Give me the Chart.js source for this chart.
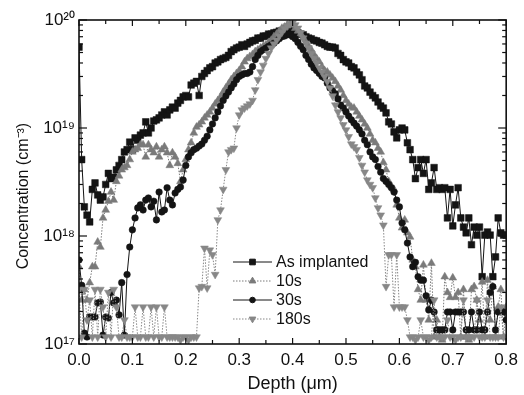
<!DOCTYPE html>
<html><head><meta charset="utf-8">
<script src="https://cdn.jsdelivr.net/npm/chart.js@4.4.1/dist/chart.umd.min.js"></script>
<style>html,body{margin:0;padding:0;background:#fff}#wrap{width:524px;height:395px;position:relative}</style>
</head><body><div id="wrap"><canvas id="c" width="524" height="395"></canvas></div>
<script>
// Depth positions (nm)
const depthNm = [0,5,10,15,20,25,30,35,40,45,
50,55,60,65,70,75,80,85,90,95,
100,105,110,115,120,125,130,135,140,145,
150,155,160,165,170,175,180,185,190,195,
200,205,210,215,220,225,230,235,240,245,
250,255,260,265,270,275,280,285,290,295,
300,305,310,315,320,325,330,335,340,345,
350,355,360,365,370,375,380,385,390,395,
400,405,410,415,420,425,430,435,440,445,
450,455,460,465,470,475,480,485,490,495,
500,505,510,515,520,525,530,535,540,545,
550,555,560,565,570,575,580,585,590,595,
600,605,610,615,620,625,630,635,640,645,
650,655,660,665,670,675,680,685,690,695,
700,705,710,715,720,725,730,735,740,745,
750,755,760,765,770,775,780,785,790,795,
800];

// Concentrations (cm^-3)
const asImplanted = [5.6e19,5.1e18,1.86e18,1.56e18,1.35e18,2.7e18,3.1e18,2.4e18,2.15e18,2.3e18,
3.0e18,3.8e18,3.4e18,3.5e18,4.1e18,4.5e18,5.1e18,6.0e18,6.3e18,7.4e18,
6.3e18,8.1e18,7.7e18,8.6e18,9.0e18,1.14e19,9.0e18,1.0e19,1.16e19,1.19e19,
1.24e19,1.32e19,1.41e19,1.32e19,1.47e19,1.56e19,1.53e19,1.7e19,1.8e19,1.94e19,
2.0e19,1.94e19,2.5e19,2.6e19,2.7e19,2.0e19,3.0e19,3.2e19,3.4e19,3.6e19,
3.7e19,4.0e19,4.1e19,4.3e19,4.4e19,4.5e19,4.7e19,5.1e19,5.3e19,5.5e19,
5.6e19,5.9e19,5.7e19,6.0e19,6.2e19,6.4e19,6.5e19,6.8e19,6.8e19,7.1e19,
7.1e19,7.4e19,7.4e19,7.6e19,7.7e19,7.9e19,7.9e19,8.1e19,8.1e19,8.3e19,
8.1e19,7.7e19,7.6e19,7.4e19,7.3e19,7.0e19,6.8e19,6.7e19,6.5e19,6.4e19,
6.2e19,6.1e19,5.9e19,5.7e19,5.6e19,5.6e19,5.5e19,4.9e19,4.7e19,4.3e19,
4.1e19,4.0e19,3.7e19,3.6e19,3.3e19,3.1e19,2.8e19,2.45e19,2.35e19,2.15e19,
2.0e19,1.9e19,1.74e19,1.6e19,1.53e19,1.38e19,1.14e19,1.09e19,9.2e18,8.1e18,
9.6e18,1.0e19,9.6e18,7.3e18,6.3e18,5.1e18,3.4e18,4.3e18,5.1e18,3.8e18,
5.1e18,2.7e18,3.1e18,4.3e18,2.7e18,2.8e18,2.7e18,2.8e18,1.47e18,2.7e18,
1.24e18,1.94e18,2.8e18,1.47e18,1.21e18,1.07e18,1.47e18,8.3e17,1.21e18,1.02e18,
1.21e18,4.2e17,1.02e18,1.09e18,1.02e18,4.2e17,6.4e17,1.47e18,1.07e18,1.02e18,
1.02e18];

const anneal10s = [5.2e17,2.55e17,3.2e17,2.55e17,3.7e17,5.2e17,5.2e17,8.8e17,7.9e17,1.47e18,
1.74e18,2.1e18,2.55e18,2.15e18,3.2e18,3.6e18,4.1e18,4.3e18,4.5e18,5.1e18,
6.0e18,6.3e18,6.5e18,7.0e18,7.0e18,5.4e18,7.0e18,6.3e18,5.9e18,6.7e18,
5.4e18,6.3e18,6.7e18,5.9e18,4.5e18,5.9e18,5.4e18,4.7e18,3.2e18,4.1e18,
5.1e18,6.3e18,7.3e18,9.0e18,1.02e19,1.07e19,1.14e19,1.24e19,1.32e19,1.41e19,
1.53e19,1.67e19,1.8e19,1.94e19,2.15e19,2.35e19,2.55e19,2.8e19,3.0e19,3.2e19,
3.4e19,3.7e19,4.1e19,4.4e19,4.6e19,4.8e19,5.1e19,5.3e19,5.5e19,5.7e19,
5.9e19,6.2e19,6.5e19,7.0e19,7.4e19,7.9e19,8.4e19,8.6e19,9.0e19,9.2e19,
9.0e19,8.4e19,7.9e19,7.4e19,6.8e19,6.2e19,5.7e19,5.3e19,4.8e19,4.4e19,
4.1e19,3.7e19,3.4e19,3.3e19,3.1e19,2.9e19,2.7e19,2.45e19,2.25e19,2.0e19,
1.8e19,1.67e19,1.56e19,1.53e19,1.41e19,1.29e19,1.19e19,1.09e19,1.0e19,8.8e18,
7.7e18,7.3e18,6.5e18,6.0e18,4.8e18,4.1e18,3.2e18,2.9e18,2.7e18,1.94e18,
1.47e18,1.19e18,1.41e18,1.07e18,9.8e17,6.0e17,5.2e17,3.2e17,2.55e17,5.4e17,
2.55e17,1.67e17,5.6e17,1.16e17,1.67e17,1.16e17,1.09e17,4.2e17,3.0e17,2.7e17,
4.1e17,2.7e17,3.0e17,1.16e17,3.2e17,1.16e17,1.09e17,3.2e17,3.4e17,2.55e17,
1.67e17,3.75e17,1.16e17,3.9e17,1.67e17,3.4e17,1.16e17,2.2e17,3.2e17,1.16e17,
2.2e17];

const anneal30s = [6.0e17,3.5e17,1.26e17,1.16e17,1.78e17,1.78e17,1.78e17,2.4e17,2.45e17,1.21e17,
1.78e17,1.74e17,3.0e17,2.4e17,2.55e17,1.86e17,3.7e17,1.21e17,4.4e17,7.9e17,
1.14e18,1.47e18,1.82e18,1.94e18,1.74e18,2.15e18,2.25e18,1.86e18,2.1e18,1.41e18,
2.55e18,1.67e18,1.74e18,2.8e18,2.15e18,1.94e18,2.5e18,2.7e18,2.84e18,3.3e18,
4.5e18,5.4e18,5.9e18,6.3e18,6.5e18,6.8e18,7.1e18,7.7e18,8.4e18,9.6e18,
1.09e19,1.24e19,1.41e19,1.6e19,1.8e19,1.98e19,2.15e19,2.35e19,2.55e19,2.8e19,
3.0e19,3.1e19,3.2e19,3.2e19,3.3e19,3.7e19,4.3e19,4.7e19,5.1e19,5.3e19,
5.5e19,5.7e19,5.9e19,6.1e19,6.4e19,6.7e19,7.0e19,7.1e19,7.3e19,7.3e19,
7.0e19,6.7e19,6.2e19,5.7e19,5.3e19,4.7e19,4.3e19,3.9e19,3.6e19,3.4e19,
3.2e19,3.0e19,2.9e19,2.6e19,2.35e19,2.2e19,2.07e19,1.86e19,1.63e19,1.53e19,
1.41e19,1.29e19,1.19e19,1.11e19,1.04e19,9.6e18,8.8e18,7.7e18,7.0e18,6.0e18,
5.4e18,5.1e18,4.4e18,3.9e18,3.4e18,3.2e18,3.0e18,2.8e18,2.55e18,2.15e18,
1.86e18,1.32e18,1.14e18,8.6e17,6.4e17,5.2e17,5.7e17,4.2e17,3.9e17,3.9e17,
2.8e17,2.07e17,2.55e17,1.98e17,1.35e17,1.35e17,1.35e17,1.35e17,1.98e17,1.98e17,
1.35e17,1.98e17,1.98e17,1.98e17,1.98e17,1.35e17,1.35e17,1.98e17,1.35e17,1.35e17,
1.98e17,1.35e17,1.35e17,1.98e17,3.0e17,3.4e17,1.35e17,1.98e17,1.98e17,1.98e17,
1.67e17];

const anneal180s = [3.2e17,1.16e17,3.2e17,1.67e17,2.55e17,1.16e17,3.2e17,1.16e17,3.2e17,2.2e17,
1.16e17,3.0e17,1.16e17,3.2e17,2.2e17,1.16e17,1.16e17,1.67e17,1.16e17,1.16e17,
1.16e17,2.2e17,1.16e17,1.16e17,2.2e17,1.16e17,1.16e17,2.2e17,1.16e17,2.2e17,
1.16e17,1.16e17,2.2e17,1.16e17,1.16e17,1.16e17,1.16e17,1.16e17,1.09e17,1.16e17,
1.16e17,1.09e17,1.16e17,1.16e17,1.16e17,3.3e17,3.4e17,7.7e17,3.3e17,7.4e17,
6.7e17,4.4e17,1.41e18,1.74e18,2.7e18,4.1e18,6.0e18,6.3e18,6.5e18,1.0e19,
1.32e19,1.47e19,1.53e19,1.6e19,1.67e19,1.8e19,2.25e19,2.8e19,3.3e19,3.8e19,
4.4e19,4.9e19,5.5e19,6.0e19,6.5e19,7.1e19,7.7e19,8.3e19,8.8e19,9.2e19,
9.4e19,9.0e19,8.4e19,7.6e19,6.8e19,6.1e19,5.5e19,4.9e19,4.4e19,4.0e19,
3.6e19,3.3e19,3.0e19,2.7e19,2.35e19,1.98e19,1.63e19,1.41e19,1.24e19,1.07e19,
9.6e18,8.3e18,7.1e18,6.7e18,6.3e18,5.3e18,4.5e18,3.9e18,3.3e18,3.0e18,
2.8e18,2.25e18,1.82e18,1.56e18,1.26e18,3.4e17,6.7e17,6.7e17,2.2e17,6.7e17,
2.2e17,2.2e17,2.2e17,1.67e17,1.16e17,1.16e17,1.09e17,1.16e17,1.67e17,1.16e17,
1.16e17,1.09e17,1.16e17,2.55e17,1.16e17,1.16e17,1.16e17,1.16e17,1.67e17,1.16e17,
1.16e17,1.09e17,1.16e17,1.16e17,2.55e17,1.16e17,1.16e17,1.16e17,1.16e17,2.55e17,
1.16e17,1.16e17,1.16e17,2.55e17,1.16e17,1.16e17,1.16e17,1.16e17,2.2e17,1.16e17,
1.16e17];

const seriesNames = ['As implanted', '10s', '30s', '180s'];
const xTickValues = [0, 0.1, 0.2, 0.3, 0.4, 0.5, 0.6, 0.7, 0.8];
const xMinorValues = [0.05, 0.15, 0.25, 0.35, 0.45, 0.55, 0.65, 0.75];
const yDecades = [1e17, 1e18, 1e19, 1e20];
const yTickLabels = ['10\u00B9\u2077', '10\u00B9\u2078', '10\u00B9\u2079', '10\u00B2\u2070'];

const FONT = '"Liberation Sans", Arial, Helvetica, sans-serif';
const toXY = (vals) => depthNm.map((d, i) => ({ x: d / 1000, y: vals[i] }));

const styles = [
  { color: '#141414', pointStyle: 'rect', radius: 4.7, rotation: 0, dash: [], order: 4 },
  { color: '#7a7a7a', pointStyle: 'triangle', radius: 4.5, rotation: 0, dash: [1.5, 1.5], order: 3 },
  { color: '#141414', pointStyle: 'circle', radius: 3.3, rotation: 0, dash: [], order: 2 },
  { color: '#878787', pointStyle: 'triangle', radius: 4.5, rotation: 180, dash: [1.5, 1.5], order: 1 }
];
const seriesValues = [asImplanted, anneal10s, anneal30s, anneal180s];

const datasets = seriesValues.map((vals, i) => ({
  label: seriesNames[i],
  data: toXY(vals),
  borderColor: styles[i].color,
  backgroundColor: styles[i].color,
  pointBackgroundColor: styles[i].color,
  pointBorderColor: styles[i].color,
  borderWidth: 1,
  borderDash: styles[i].dash,
  pointStyle: styles[i].pointStyle,
  pointRotation: styles[i].rotation,
  pointRadius: styles[i].radius,
  pointBorderWidth: 0.5,
  tension: 0,
  fill: false,
  order: styles[i].order
}));

const frame = {
  id: 'frame',
  afterDatasetsDraw(chart) {
    const { ctx, chartArea: a, scales: { x, y } } = chart;
    ctx.save();
    ctx.strokeStyle = '#111';
    const seg = (x1, y1, x2, y2) => { ctx.beginPath(); ctx.moveTo(x1, y1); ctx.lineTo(x2, y2); ctx.stroke(); };
    ctx.lineWidth = 1.2;
    xTickValues.forEach(v => { const p = x.getPixelForValue(v); seg(p, a.bottom, p, a.bottom - 6); seg(p, a.top, p, a.top + 6); });
    xMinorValues.forEach(v => { const p = x.getPixelForValue(v); seg(p, a.bottom, p, a.bottom - 4); seg(p, a.top, p, a.top + 4); });
    yDecades.forEach(d => {
      const p = y.getPixelForValue(d); seg(a.left, p, a.left + 8, p); seg(a.right, p, a.right - 8, p);
      if (d < 1e20) for (let m = 2; m <= 9; m++) {
        const q = y.getPixelForValue(m * d); seg(a.left, q, a.left + 4, q); seg(a.right, q, a.right - 4, q);
      }
    });
    ctx.lineWidth = 1.6;
    ctx.strokeRect(a.left, a.top, a.right - a.left, a.bottom - a.top);
    ctx.restore();
  }
};

const legendBox = {
  id: 'legendBox',
  afterDatasetsDraw(chart) {
    const { ctx, chartArea: a } = chart;
    const x0 = a.left + 154, len = 39, y0 = a.top + 242, dy = 19;
    ctx.save();
    chart.data.datasets.forEach((ds, i) => {
      const yy = y0 + i * dy;
      const st = styles[i];
      ctx.strokeStyle = st.color; ctx.fillStyle = st.color;
      ctx.lineWidth = 1; ctx.setLineDash(st.dash);
      ctx.beginPath(); ctx.moveTo(x0, yy); ctx.lineTo(x0 + len, yy); ctx.stroke();
      ctx.setLineDash([]);
      Chart.helpers.drawPoint(ctx, { pointStyle: st.pointStyle, rotation: st.rotation, radius: st.radius * 0.85, borderWidth: 0.5 }, x0 + len / 2, yy);
      ctx.fillStyle = '#111';
      ctx.font = '16px ' + FONT;
      ctx.textAlign = 'left'; ctx.textBaseline = 'middle';
      ctx.fillText(ds.label, x0 + len + 4, yy + 1);
    });
    ctx.restore();
  }
};

const yTitle = {
  id: 'yTitle',
  afterDraw(chart) {
    const { ctx, chartArea: a } = chart;
    ctx.save();
    ctx.translate(24, (a.top + a.bottom) / 2 + 14);
    ctx.rotate(-Math.PI / 2);
    ctx.fillStyle = '#111';
    ctx.font = '16px ' + FONT;
    ctx.textAlign = 'center'; ctx.textBaseline = 'middle';
    ctx.fillText('Concentration (cm\u207B\u00B3)', 0, 0);
    ctx.restore();
  }
};

new Chart(document.getElementById('c'), {
  type: 'line',
  data: { datasets },
  options: {
    responsive: false,
    animation: false,
    devicePixelRatio: 1,
    layout: { padding: { left: 0, right: 9, top: 20, bottom: 0 } },
    plugins: { legend: { display: false }, tooltip: { enabled: false } },
    scales: {
      x: {
        type: 'linear', min: 0, max: 0.8,
        grid: { display: false, drawTicks: false },
        border: { display: false },
        afterBuildTicks(s) { s.ticks = xTickValues.map(v => ({ value: v })); },
        ticks: { padding: 6, color: '#111', font: { family: FONT, size: 17 }, maxRotation: 0, autoSkip: false,
                 callback: (v) => Number(v).toFixed(1) },
        title: { display: true, text: 'Depth (\u03BCm)', color: '#111', font: { family: FONT, size: 18 }, padding: { top: 2, bottom: 0 } },
        afterFit(s) { s.height = 51; }
      },
      y: {
        type: 'logarithmic', min: 1e17, max: 1e20,
        grid: { display: false, drawTicks: false },
        border: { display: false },
        afterBuildTicks(s) { s.ticks = yDecades.map(v => ({ value: v })); },
        ticks: { padding: 4, color: '#111', font: { family: FONT, size: 17 }, autoSkip: false,
                 callback: (v) => { const k = yDecades.indexOf(v); return k >= 0 ? yTickLabels[k] : ''; } },
        afterFit(s) { s.width = 79; }
      }
    }
  },
  plugins: [frame, legendBox, yTitle]
});
</script>
</body></html>
